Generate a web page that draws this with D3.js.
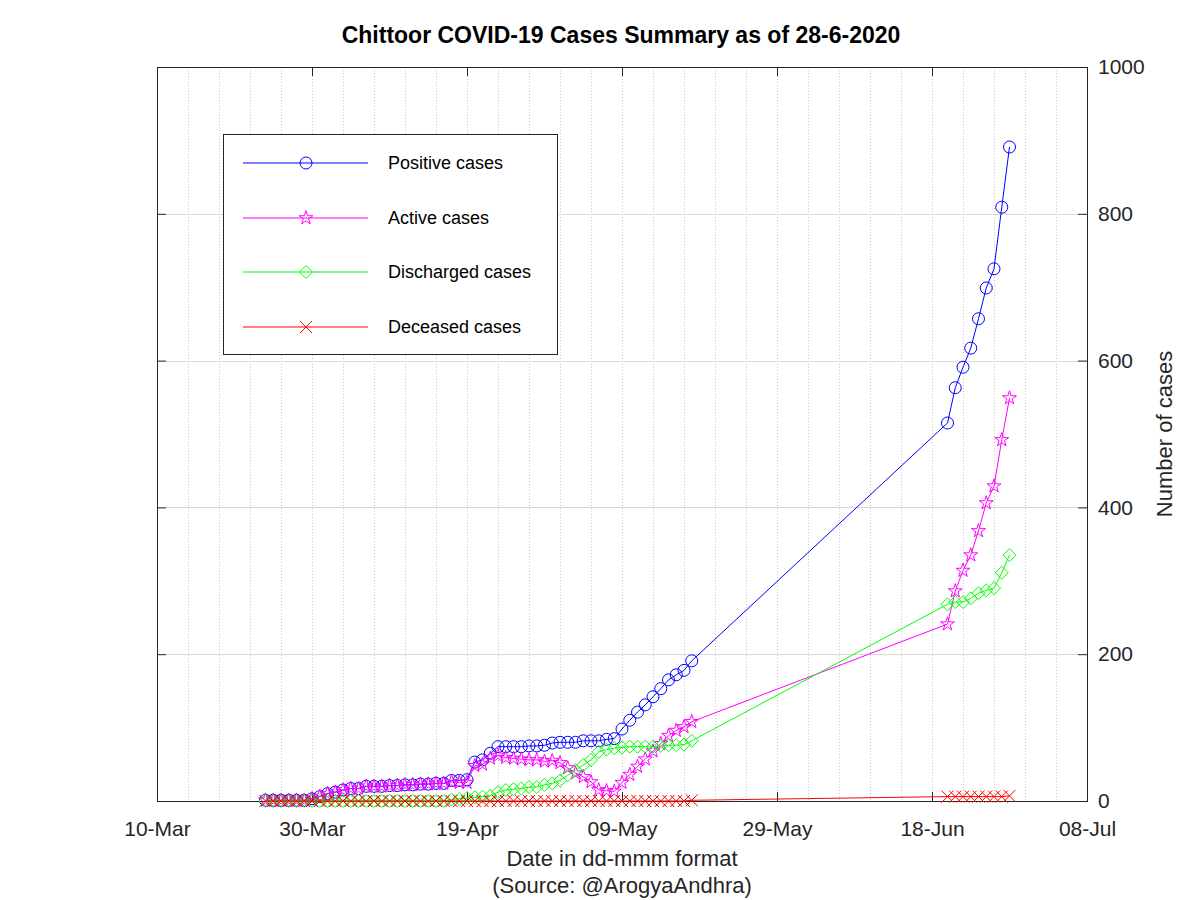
<!DOCTYPE html>
<html>
<head>
<meta charset="utf-8">
<script src="https://cdn.jsdelivr.net/npm/d3@7"></script>
<style>
  html, body { margin: 0; padding: 0; background: #fff; }
  svg { display: block; font-family: "Liberation Sans", Arial, Helvetica, sans-serif; }
</style>
</head>
<body>
<svg id="chart" width="1200" height="900"></svg>
<script>
// ---------------- data ----------------
const dates = [
  "2020-03-24","2020-03-25","2020-03-26","2020-03-27","2020-03-28","2020-03-29","2020-03-30","2020-03-31",
  "2020-04-01","2020-04-02","2020-04-03","2020-04-04","2020-04-05","2020-04-06","2020-04-07","2020-04-08",
  "2020-04-09","2020-04-10","2020-04-11","2020-04-12","2020-04-13","2020-04-14","2020-04-15","2020-04-16",
  "2020-04-17","2020-04-18","2020-04-19","2020-04-20","2020-04-21","2020-04-22","2020-04-23","2020-04-24",
  "2020-04-25","2020-04-26","2020-04-27","2020-04-28","2020-04-29","2020-04-30",
  "2020-05-01","2020-05-02","2020-05-03","2020-05-04","2020-05-05","2020-05-06","2020-05-07","2020-05-08",
  "2020-05-09","2020-05-10","2020-05-11","2020-05-12","2020-05-13","2020-05-14","2020-05-15","2020-05-16",
  "2020-05-17","2020-05-18",
  "2020-06-20","2020-06-21","2020-06-22","2020-06-23","2020-06-24","2020-06-25","2020-06-26","2020-06-27","2020-06-28"
];
const positive = [
  1,1,1,1,1,1,3,6,
  10,12,15,17,17,20,20,20,21,21,22,22,23,23,24,24,28,28,29,53,56,65,74,74,74,74,75,75,76,79,
  80,80,80,82,82,82,84,85,98,110,121,131,142,153,165,172,178,191,
  515,563,591,617,657,699,725,809,891
];
const active = [
  1,1,1,1,1,1,3,6,
  10,12,15,17,17,20,20,20,21,21,22,22,23,23,24,24,26,25,25,48,50,58,62,59,58,57,56,56,54,55,
  52,45,38,33,26,15,14,13,25,36,47,57,68,78,89,96,101,108,
  241,286,314,335,368,406,429,492,549
];
const discharged = [
  0,0,0,0,0,0,0,0,
  0,0,0,0,0,0,0,0,0,0,0,0,0,0,0,0,2,3,4,5,6,7,12,15,16,17,19,19,22,24,
  28,35,42,49,56,67,70,72,73,74,74,74,74,75,76,76,77,82,
  268,271,271,276,283,287,290,311,335
];
const deceased = [
  0,0,0,0,0,0,0,0,
  0,0,0,0,0,0,0,0,0,0,0,0,0,0,0,0,0,0,0,0,0,0,0,0,0,0,0,0,0,0,
  0,0,0,0,0,0,0,0,0,0,0,0,0,0,0,0,0,1,
  6,6,6,6,6,6,6,6,7
];
const seriesNames = ["Positive cases","Active cases","Discharged cases","Deceased cases"];
const seriesColors = ["#0000ff","#ff00ff","#00ff00","#ff0000"];
const seriesMarkers = ["circle","star","diamond","x"];
const xTickLabels = ["10-Mar","30-Mar","19-Apr","09-May","29-May","18-Jun","08-Jul"];
const yTicks = [0,200,400,600,800,1000];
const titleText = "Chittoor COVID-19 Cases Summary as of 28-6-2020";
const xLabelText = "Date in dd-mmm format";
const sourceText = "(Source: @ArogyaAndhra)";
const yLabelText = "Number of cases";

// ---------------- layout ----------------
const parse = d3.utcParse("%Y-%m-%d");
const L = 157, R = 1087, T = 67, B = 801;
const svg = d3.select("#chart");
const x = d3.scaleUtc().domain([parse("2020-03-10"), parse("2020-07-08")]).range([L, R]);
const y = d3.scaleLinear().domain([0, 1000]).range([B, T]);

const xMajor = d3.range(0, 7).map(i => d3.utcDay.offset(parse("2020-03-10"), i * 20));
const xMinor = d3.range(0, 31).map(i => d3.utcDay.offset(parse("2020-03-10"), i * 4));

// grid
const grid = svg.append("g");
grid.selectAll("line.vminor").data(xMinor.slice(1, -1)).join("line")
  .attr("x1", d => Math.round(x(d)) + 0.5).attr("x2", d => Math.round(x(d)) + 0.5)
  .attr("y1", T).attr("y2", B)
  .attr("stroke", "#c8c8c8").attr("stroke-width", 1).attr("stroke-dasharray", "1,2");
grid.selectAll("line.h").data(yTicks.slice(1, -1)).join("line")
  .attr("x1", L).attr("x2", R)
  .attr("y1", d => Math.round(y(d)) + 0.5).attr("y2", d => Math.round(y(d)) + 0.5)
  .attr("stroke", "#d9d9d9").attr("stroke-width", 1);

// axes
const tickFmt = (d, i) => xTickLabels[i];
const axisStyle = g => {
  g.select(".domain").remove();
  g.selectAll(".tick line").attr("stroke", "#262626");
  g.selectAll(".tick text").attr("fill", "#262626").style("font-size", "21px")
    .style("font-family", "'Liberation Sans', Arial, sans-serif");
};
svg.append("g").attr("transform", `translate(0,${B})`)
  .call(d3.axisBottom(x).tickValues(xMajor).tickFormat(tickFmt).tickSize(-9).tickPadding(20))
  .call(axisStyle);
svg.append("g").attr("transform", `translate(0,${T})`)
  .call(d3.axisTop(x).tickValues(xMajor).tickFormat("").tickSize(-9))
  .call(axisStyle);
svg.append("g").attr("transform", `translate(${R},0)`)
  .call(d3.axisRight(y).tickValues(yTicks).tickFormat(d3.format("d")).tickSize(-9).tickPadding(11))
  .call(axisStyle);
svg.append("g").attr("transform", `translate(${L},0)`)
  .call(d3.axisLeft(y).tickValues(yTicks).tickFormat("").tickSize(-9))
  .call(axisStyle);

// box
svg.append("rect").attr("x", L + 0.5).attr("y", T + 0.5).attr("width", R - L).attr("height", B - T)
  .attr("fill", "none").attr("stroke", "#262626").attr("stroke-width", 1);

// marker paths
function markerPath(type) {
  if (type === "circle") return d3.symbol(d3.symbolCircle, Math.PI * 36)();
  if (type === "star") return d3.symbol(d3.symbolStar, 60)();
  if (type === "diamond") { const r = 6.5; return `M0,${-r}L${r},0L0,${r}L${-r},0Z`; }
  const r = 6; return `M${-r},${-r}L${r},${r}M${-r},${r}L${r},${-r}`;
}

const seriesData = [positive, active, discharged, deceased];
const plot = svg.append("g");
seriesData.forEach((vals, si) => {
  const pts = dates.map((d, i) => ({ date: parse(d), v: vals[i] }));
  const line = d3.line().x(d => x(d.date)).y(d => y(d.v));
  const g = plot.append("g");
  g.append("path").attr("d", line(pts)).attr("fill", "none")
    .attr("stroke", seriesColors[si]).attr("stroke-width", 1);
  g.selectAll("path.m").data(pts).join("path").attr("class", "m")
    .attr("transform", d => `translate(${x(d.date)},${y(d.v)})`)
    .attr("d", markerPath(seriesMarkers[si]))
    .attr("fill", "none").attr("stroke", seriesColors[si]).attr("stroke-width", 1);
});

// legend
const lg = svg.append("g");
lg.append("rect").attr("x", 223.5).attr("y", 134.5).attr("width", 334).attr("height", 220)
  .attr("fill", "#fff").attr("stroke", "#262626").attr("stroke-width", 1);
const legendRows = [163, 218, 272, 327];
seriesNames.forEach((name, i) => {
  const yy = legendRows[i];
  lg.append("line").attr("x1", 243).attr("x2", 368).attr("y1", yy).attr("y2", yy)
    .attr("stroke", seriesColors[i]).attr("stroke-width", 1.2);
  lg.append("path").attr("transform", `translate(306,${yy})`).attr("d", markerPath(seriesMarkers[i]))
    .attr("fill", "none").attr("stroke", seriesColors[i]).attr("stroke-width", 1);
  lg.append("text").attr("x", 388).attr("y", yy).attr("dy", "0.35em")
    .style("font-size", "18px").attr("fill", "#000").text(name);
});

// titles
svg.append("text").attr("x", 621).attr("y", 43).attr("text-anchor", "middle")
  .style("font-size", "23px").style("font-weight", "bold").attr("fill", "#000").text(titleText);
svg.append("text").attr("x", 622).attr("y", 866).attr("text-anchor", "middle")
  .style("font-size", "22px").attr("fill", "#262626").text(xLabelText);
svg.append("text").attr("x", 622).attr("y", 893).attr("text-anchor", "middle")
  .style("font-size", "22px").attr("fill", "#262626").text(sourceText);
svg.append("text").attr("transform", "translate(1172,434) rotate(-90)").attr("text-anchor", "middle")
  .style("font-size", "22px").attr("fill", "#262626").text(yLabelText);
</script>
</body>
</html>
